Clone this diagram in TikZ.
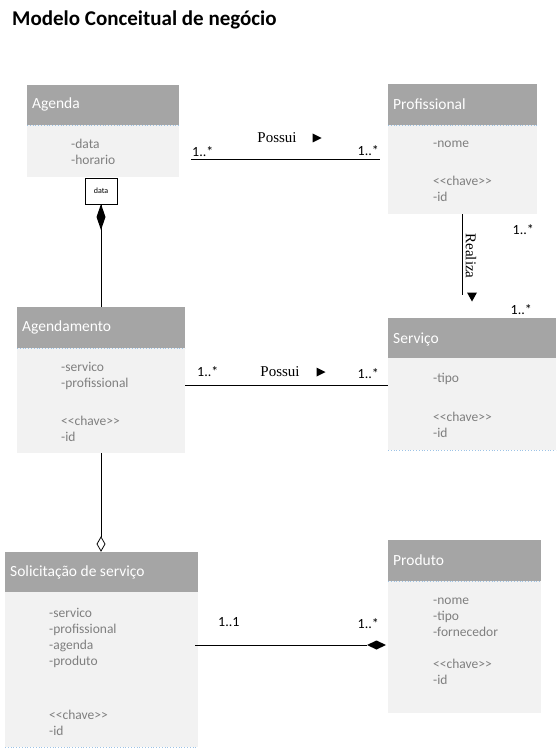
\documentclass[tikz,border=0pt]{standalone}
\usepackage{fontspec}
\setmainfont{Carlito}
\newfontfamily\labelfont{Liberation Serif}
\usetikzlibrary{arrows.meta,positioning}
\definecolor{headgray}{HTML}{A5A5A5}
\definecolor{bodygray}{HTML}{F2F2F2}
\definecolor{attrgray}{HTML}{7F7F7F}
\definecolor{sepblue}{HTML}{9DC3E6}
\tikzset{
  headtext/.style={anchor=west,text=white,font=\fontsize{15.5}{18}\selectfont,inner sep=0pt},
  attr/.style={anchor=north west,text=attrgray,font=\fontsize{13.5}{16}\selectfont,align=left,inner sep=0pt},
  sep/.style={draw=sepblue,dotted,line width=0.8pt},
  mult/.style={font=\fontsize{14}{16}\selectfont,inner sep=0pt},
  rel/.style={font=\labelfont\fontsize{15}{17}\selectfont,inner sep=0pt},
  conn/.style={draw=black,line width=0.8pt},
}
\begin{document}
\begin{tikzpicture}[x=1pt,y=-1pt]
\useasboundingbox (0,0) rectangle (558,749);
\fill[white] (0,0) rectangle (558,749);

% title
\node[anchor=west,inner sep=0pt,font=\bfseries\fontsize{21}{24}\selectfont] (title) at (12,20) {Modelo Conceitual de negócio};

% Agenda
\fill[bodygray] (27,125) rectangle (179,177);
\fill[headgray] (27,85) rectangle (179,125);
\draw[sep] (27,125) -- (179,125);
\node[headtext] (agendaT) at (32,104) {Agenda};
\node[attr] (agendaA) at (71,139) {-data\\-horario};
\node[draw=black,fill=white,line width=0.6pt,minimum width=32pt,minimum height=26pt,inner sep=0pt,font=\fontsize{8}{9}\selectfont] (qual) at (101,191) {data};

% Profissional
\fill[bodygray] (388,125) rectangle (537,214);
\fill[headgray] (388,84) rectangle (537,125);
\draw[sep] (388,125) -- (537,125);
\node[headtext] (profT) at (393,104) {Profissional};
\node[attr] (profA) at (433,141) {-nome\\[6pt]\\<{}<chave>{}>\\-id};

% Agendamento
\fill[bodygray] (17,348) rectangle (185,453);
\fill[headgray] (17,307) rectangle (185,348);
\draw[sep] (17,348) -- (185,348);
\node[headtext] (agdT) at (22,327) {Agendamento};
\node[attr] (agdA) at (61,362) {-servico\\-profissional\\[6pt]\\<{}<chave>{}>\\-id};

% Serviço
\fill[bodygray] (388,358) rectangle (556,450);
\fill[headgray] (388,318) rectangle (556,358);
\draw[sep] (388,450) -- (556,450);
\node[headtext] (servT) at (393,339) {Serviço};
\node[attr] (servA) at (433,373) {-tipo\\[7pt]\\<{}<chave>{}>\\-id};

% Solicitação de serviço
\fill[bodygray] (5,592) rectangle (198,747);
\fill[headgray] (5,552) rectangle (198,592);
\draw[sep] (5,747) -- (198,747);
\node[headtext] (solT) at (10,572) {Solicitação de serviço};
\node[attr] (solA) at (49,608) {-servico\\-profissional\\-agenda\\-produto\\[22pt]\\<{}<chave>{}>\\-id};

% Produto
\fill[bodygray] (388,581) rectangle (541,713);
\fill[headgray] (388,540) rectangle (541,581);
\draw[sep] (388,581) -- (541,581);
\node[headtext] (prodT) at (393,560) {Produto};
\node[attr] (prodA) at (433,598) {-nome\\-tipo\\-fornecedor\\[0pt]\\<{}<chave>{}>\\-id};

% connector end points
\coordinate (ap1) at (191,159);
\coordinate (ap2) at (380,159);
\coordinate (ps1) at (462,214);
\coordinate (ps2) at (462,295);
\coordinate (as1) at (185,385);
\coordinate (as2) at (388,385);
\coordinate (ag1) at (101,204);
\coordinate (ag2) at (101,307);
\coordinate (gs1) at (101,453);
\coordinate (gs2) at (101,551);
\coordinate (sp1) at (195,645);
\coordinate (sp2) at (386,645);

% Agenda -- Profissional
\draw[conn] (ap1) -- (ap2);
\node[mult,anchor=base west] (m1) at (192,157) {1..*};
\node[mult,anchor=base east] (m2) at (379,155) {1..*};
\node[rel] (r1) at (277,138) {Possui};
\node[inner sep=0pt] (t1) at (317,138) {\tikz[x=1pt,y=1pt]\fill (0,0)--(9,4.5)--(0,9)--cycle;};

% Profissional -- Serviço
\draw[conn] (ps1) -- (ps2);
\node[rel,rotate=-90] (r2) at (471,256) {Realiza};
\node[inner sep=0pt] (t2) at (472,297) {\tikz[x=1pt,y=1pt]\fill (0,0)--(10,0)--(5,-9)--cycle;};
\node[mult,anchor=base east] (m3) at (534,234) {1..*};
\node[mult,anchor=base east] (m4) at (532,314) {1..*};

% Agendamento -- Serviço
\draw[conn] (as1) -- (as2);
\node[mult,anchor=base west] (m5) at (197,376) {1..*};
\node[mult,anchor=base east] (m6) at (379,378) {1..*};
\node[rel] (r3) at (280,372) {Possui};
\node[inner sep=0pt] (t3) at (321,372) {\tikz[x=1pt,y=1pt]\fill (0,0)--(9,4.5)--(0,9)--cycle;};

% Agenda composition with Agendamento
\draw[conn] (ag2) -- (ag1);
\fill (101,204) -- (105.5,217) -- (101,230) -- (96.5,217) -- cycle;

% Agendamento aggregation with Solicitação
\draw[conn] (gs1) -- (101,537);
\draw[line width=0.8pt,fill=white] (101,537) -- (105,544) -- (101,551) -- (97,544) -- cycle;

% Solicitação -- Produto
\draw[conn] (sp1) -- (367,645);
\fill (367,645) -- (376.5,640.5) -- (386,645) -- (376.5,649.5) -- cycle;
\node[mult,anchor=base west] (m7) at (218,626) {1..1};
\node[mult,anchor=base east] (m8) at (379,628) {1..*};
\end{tikzpicture}
\end{document}
